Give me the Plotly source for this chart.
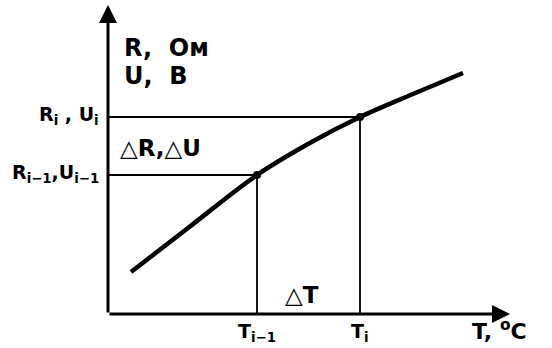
import plotly.graph_objects as go

# Curve R(T) / U(T), in arbitrary units
T_curve = [23, 80, 149, 200, 252, 305, 355]
R_curve = [42, 86, 139, 170, 197, 220, 241]

# Marked points (T_{i-1}, R_{i-1}) and (T_i, R_i)
T_pts = [149, 252]
R_pts = [139, 197]

x_tick_labels = ["T<sub>i−1</sub>", "T<sub>i</sub>"]
y_tick_labels = ["R<sub>i−1</sub>,U<sub>i−1</sub>", "R<sub>i</sub> , U<sub>i</sub>"]

X_MAX, Y_MAX = 402, 309
FONT = "DejaVu Sans"

fig = go.Figure()

# guide lines
for t, r in zip(T_pts, R_pts):
    fig.add_trace(go.Scatter(x=[0, t, t], y=[r, r, 0], mode="lines",
                             line=dict(color="black", width=1.8),
                             hoverinfo="skip", showlegend=False))

fig.add_trace(go.Scatter(x=T_curve, y=R_curve, mode="lines",
                         line=dict(color="black", width=4.5, shape="spline"),
                         hoverinfo="skip", showlegend=False))
fig.add_trace(go.Scatter(x=T_pts, y=R_pts, mode="markers",
                         marker=dict(color="black", size=8),
                         hoverinfo="skip", showlegend=False))

# axes with arrows
fig.add_annotation(x=0, y=Y_MAX, ax=0, ay=0, xref="x", yref="y", axref="x", ayref="y",
                   showarrow=True, arrowhead=2, arrowsize=1.2, arrowwidth=3,
                   arrowcolor="black", text="", standoff=0)
fig.add_annotation(x=X_MAX, y=0, ax=0, ay=0, xref="x", yref="y", axref="x", ayref="y",
                   showarrow=True, arrowhead=2, arrowsize=1.2, arrowwidth=3,
                   arrowcolor="black", text="", standoff=0)

def label(text, x, y, xanchor="left", size=19, xshift=0, yshift=0):
    fig.add_annotation(x=x, y=y, xref="x", yref="y", text=text, showarrow=False,
                       xanchor=xanchor, yanchor="middle", xshift=xshift, yshift=yshift,
                       font=dict(family=FONT, size=size, color="black"))

# y tick labels
for r, lab in zip(R_pts, y_tick_labels):
    label("<b>" + lab + "</b>", 0, r, xanchor="right", size=19, xshift=-7, yshift=2)
# x tick labels
for t, lab in zip(T_pts, x_tick_labels):
    label("<b>" + lab + "</b>", t, 0, xanchor="center", size=19, yshift=-18)

label("<b>R,  Ом</b>", 14, 266, size=24)
label("<b>U,  B</b>", 14, 238, size=24)
label("<b>△R,△U</b>", 10, 166, size=23)
label("<b>△T</b>", 175, 19, size=23)
label("<b>T, <sup>o</sup>C</b>", 362, 0, size=22, yshift=-16)

fig.update_xaxes(range=[0, X_MAX], visible=False, fixedrange=True)
fig.update_yaxes(range=[0, Y_MAX], visible=False, fixedrange=True)
fig.update_layout(width=552, height=348, margin=dict(l=108, r=42, t=5, b=34),
                  plot_bgcolor="white", paper_bgcolor="white", showlegend=False)

fig.write_html("out.html", config={"displayModeBar": False},
               post_script="document.body.style.margin='0';")
